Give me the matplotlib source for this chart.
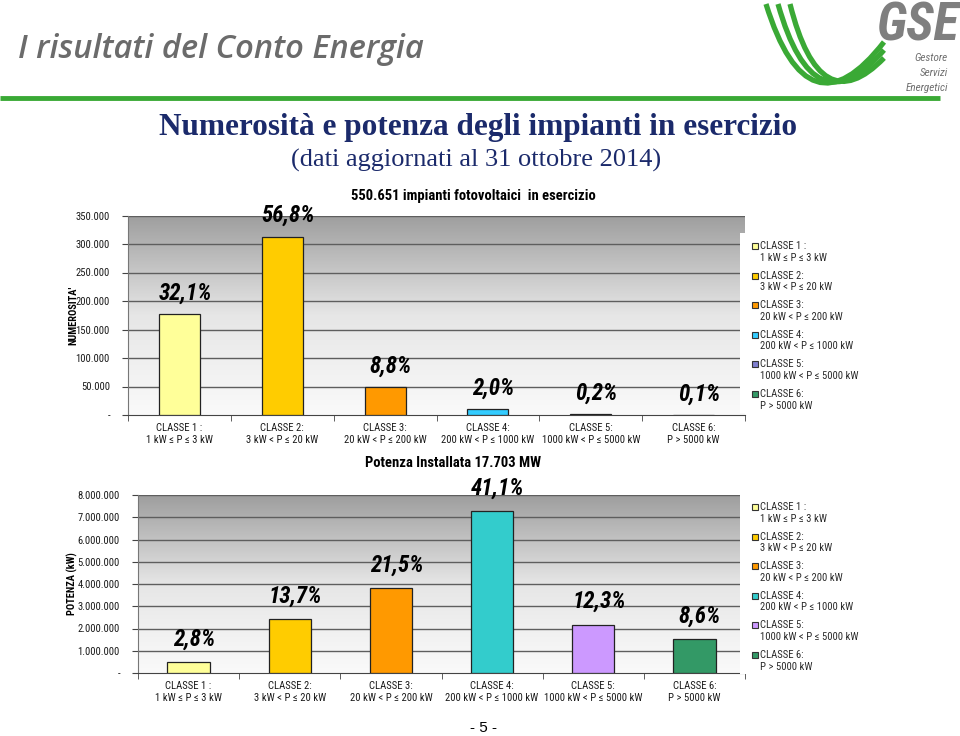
import matplotlib
matplotlib.use("Agg")
import matplotlib.pyplot as plt
import matplotlib.patches as mpatches
from matplotlib.path import Path
from matplotlib.colors import LinearSegmentedColormap
from matplotlib import font_manager
import numpy as np

# dati
classi = ["CLASSE 1 :\n1 kW ≤ P ≤ 3 kW", "CLASSE 2:\n3 kW < P ≤ 20 kW",
          "CLASSE 3:\n20 kW < P ≤ 200 kW", "CLASSE 4:\n200 kW < P ≤ 1000 kW",
          "CLASSE 5:\n1000 kW < P ≤ 5000 kW", "CLASSE 6:\nP > 5000 kW"]
numerosita = [177000, 313000, 48500, 11000, 1100, 550]
numerosita_pct = ["32,1%", "56,8%", "8,8%", "2,0%", "0,2%", "0,1%"]
potenza = [496000, 2425000, 3806000, 7276000, 2177000, 1522000]
potenza_pct = ["2,8%", "13,7%", "21,5%", "41,1%", "12,3%", "8,6%"]
colori_num = ["#ffff99", "#ffcc00", "#ff9900", "#33ccff", "#7f7fcf", "#339966"]
colori_pot = ["#ffff99", "#ffcc00", "#ff9900", "#33cccc", "#cc99ff", "#339966"]

# font stretto se disponibile, altrimenti Roboto un po' piu' piccolo
nomi = {f.name for f in font_manager.fontManager.ttflist}
scala = 0.84
NARROW = ["Roboto", "DejaVu Sans"]
for cand in ["Liberation Sans Narrow", "Roboto Condensed", "DejaVu Sans Condensed", "Open Sans Condensed"]:
    if cand in nomi:
        NARROW = [cand, "DejaVu Sans"]
        scala = 1.0
        break

W, H = 960, 736

fig = plt.figure(figsize=(9.6, 7.36), dpi=100)
fig.patch.set_facecolor("white")

# overlay in pixel per intestazione / logo
deco = fig.add_axes([0, 0, 1, 1], zorder=0)
deco.set_xlim(0, W)
deco.set_ylim(H, 0)
deco.axis("off")
deco.plot([0, 940], [98, 98], color="#3aa935", lw=3.5, solid_capstyle="butt")
for i in range(3):
    verts = [(766 + i * 12, 4), (808 + i * 6, 140 - i * 8), (884, 42 + i * 8)]
    p = Path(verts, [Path.MOVETO, Path.CURVE3, Path.CURVE3])
    deco.add_patch(mpatches.PathPatch(p, fill=False, edgecolor="#3aa935", lw=3.8))

fig.text(18 / W, 1 - 50 / H, "I risultati del Conto Energia", fontsize=23.5,
         style="italic", weight="semibold", color="#6b6b6b", family=["Open Sans", "DejaVu Sans"],
         va="center", ha="left")
fig.text(959 / W, 1 - 26 / H, "GSE", fontsize=38, style="italic", weight="bold",
         color="#7f7f7f", family=NARROW, ha="right", va="center")
for j, t in enumerate(["Gestore", "Servizi", "Energetici"]):
    fig.text(948 / W, 1 - (58 + j * 15) / H, t, fontsize=8, style="italic",
             color="#6f6f6f", ha="right", va="center", family=NARROW)

fig.text(478 / W, 1 - 127 / H, "Numerosità e potenza degli impianti in esercizio",
         fontsize=22.5, weight="bold", color="#1b2a6b", family=["Liberation Serif", "DejaVu Serif"],
         ha="center", va="center")
fig.text(476 / W, 1 - 160 / H, "(dati aggiornati al 31 ottobre 2014)",
         fontsize=19, color="#1b2a6b", family=["Liberation Serif", "DejaVu Serif"],
         ha="center", va="center")
fig.text(483 / W, 1 - 728 / H, "- 5 -", fontsize=11, ha="center", va="center",
         family=["Liberation Sans", "DejaVu Sans"])

grigio = LinearSegmentedColormap.from_list("grigio", ["#fafafa", "#e6e6e6", "#9e9e9e"])


def fmt(v):
    return "-" if v == 0 else f"{v:,.0f}".replace(",", ".")


def disegna(rect, valori, pct, colori, ymax, passo, ylabel, titolo, larghezza, offset, pad):
    ax = fig.add_axes(rect, zorder=2)
    n = len(valori)
    x = np.arange(n)
    ax.set_xlim(-0.5, n - 0.5)
    ax.set_ylim(0, ymax)
    grad = np.linspace(0, 1, 256).reshape(-1, 1)
    ax.imshow(grad, extent=[-0.5, n - 0.5, 0, ymax], aspect="auto", cmap=grigio,
              origin="lower", zorder=0)
    for y in np.arange(passo, ymax + 1, passo):
        ax.axhline(y, color="#5e5e5e", lw=1, zorder=1)
    ax.bar(x, valori, width=larghezza, color=colori, edgecolor="#222222", lw=0.9, zorder=3)
    for xi, v, t in zip(x, valori, pct):
        ax.annotate(t, (xi, v), xytext=(4, offset), textcoords="offset points",
                    ha="center", va="center", fontsize=16.5 * (0.92 if scala < 1 else 1),
                    style="italic", weight="bold",
                    family=NARROW, zorder=4, annotation_clip=False)
    ax.set_xticks(x)
    ax.set_xticklabels(classi, fontsize=7.7 * scala, family=NARROW, color="#1a1a1a",
                       linespacing=1.2)
    ax.set_xticks(np.arange(-0.5, n), minor=True)
    ax.tick_params(axis="x", which="major", length=0, pad=6)
    ax.tick_params(axis="x", which="minor", length=4, color="#444444")
    yt = np.arange(0, ymax + 1, passo)
    ax.set_yticks(yt)
    ax.set_yticklabels([fmt(v) for v in yt], fontsize=7.7 * scala, family=NARROW,
                       color="#1a1a1a")
    ax.tick_params(axis="y", length=4, color="#444444", pad=9)
    for s in ["top", "right"]:
        ax.spines[s].set_visible(False)
    ax.spines["left"].set_color("#777777")
    ax.spines["bottom"].set_color("#444444")
    ax.set_ylabel(ylabel, fontsize=7.5 * scala, weight="bold", family=NARROW)
    ax.set_title(titolo, fontsize=10.5 * scala, weight="bold", family=NARROW, pad=pad)
    return ax


ax1 = disegna([128 / W, 1 - 415 / H, 617 / W, 199.5 / H], numerosita, numerosita_pct,
              colori_num, 350000, 50000, "NUMEROSITA'",
              "550.651 impianti fotovoltaici  in esercizio", 0.4, 15, 11)
ax1.yaxis.set_label_coords(-50 / 617, 0.5)
ax1.title.set_position((345 / 617, 1.0))
ax2 = disegna([138 / W, 1 - 673 / H, 607 / W, 178 / H], potenza, potenza_pct,
              colori_pot, 8000000, 1000000, "POTENZA (kW)",
              "Potenza Installata 17.703 MW", 0.42, 16.5, 20)
ax2.yaxis.set_label_coords(-60 / 607, 0.5)
ax2.title.set_position((315 / 607, 1.0))


def legenda(y0, colori):
    lx = 740 / W
    fig.patches.append(mpatches.Rectangle((lx, 1 - (y0 + 172) / H), 125 / W, 180 / H,
                                          transform=fig.transFigure, facecolor="white",
                                          edgecolor="none", zorder=5))
    for i, (lab, c) in enumerate(zip(classi, colori)):
        yy = y0 + i * 29.6
        fig.patches.append(mpatches.Rectangle((752 / W, 1 - (yy + 2 + 6) / H), 6 / W, 6 / H,
                                              transform=fig.transFigure, facecolor=c,
                                              edgecolor="#333333", lw=0.8, zorder=6))
        fig.text(760 / W, 1 - yy / H, lab, fontsize=7.7 * scala, family=NARROW, color="#2a2a2a",
                 va="top", ha="left", zorder=7, linespacing=1.2)


legenda(241, colori_num)
legenda(502, colori_pot)

fig.savefig("out.png", dpi=100)
